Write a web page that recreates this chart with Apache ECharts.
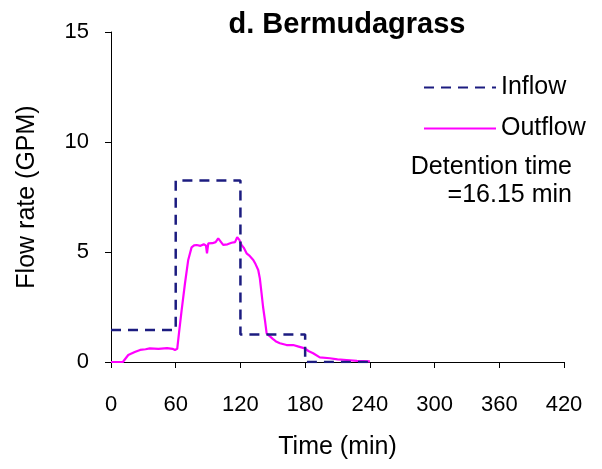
<!DOCTYPE html>
<html lang="en">
<head>
    <meta charset="UTF-8">
    <title>d. Bermudagrass</title>
    <script src="https://cdn.jsdelivr.net/npm/echarts@6/dist/echarts.min.js"></script>
    <style>
        body { margin: 0; padding: 0; background: #fff; }
        #main { width: 602px; height: 469px; }
    </style>
</head>
<body>
    <div id="main"></div>
    <script>
        // step hydrograph of the inflow (min, GPM)
        const inflowTime = [0, 60, 60, 120, 120, 180, 180, 240];
        const inflowRate = [1.45, 1.45, 8.25, 8.25, 1.25, 1.25, 0, 0];

        // measured outflow (min, GPM)
        const outflowTime = [0, 11, 16, 22, 27, 32, 36, 44, 52, 57, 59.3, 61.4, 63, 65.5, 68.6, 71.6, 74.7, 77, 79.4, 83, 86, 88, 89, 90.2, 94, 97, 99.4, 101, 104, 108, 111.8, 115, 117, 119, 121, 123, 125.7, 128, 131.9, 134, 136.5, 138, 139.6, 141, 142.7, 144.3, 145.8, 150, 153.5, 156.6, 162.8, 168.9, 174, 179.7, 183, 187.4, 193.6, 202.9, 210, 218.4, 228, 240];
        const outflowRate = [0, 0, 0.32, 0.45, 0.55, 0.58, 0.62, 0.6, 0.63, 0.6, 0.55, 0.6, 1.3, 2.36, 3.58, 4.64, 5.21, 5.3, 5.32, 5.28, 5.35, 5.3, 4.94, 5.39, 5.4, 5.45, 5.62, 5.55, 5.32, 5.35, 5.42, 5.45, 5.67, 5.55, 5.32, 5.2, 4.94, 4.85, 4.64, 4.45, 4.18, 3.8, 3.12, 2.5, 1.91, 1.3, 1.23, 1.05, 0.92, 0.85, 0.77, 0.77, 0.7, 0.62, 0.5, 0.4, 0.21, 0.17, 0.12, 0.09, 0.05, 0.03];

        const xTicks = [0, 420, 60];   // min, max, interval
        const yTicks = [0, 15, 5];

        const pair = (xs, ys) => xs.map((x, i) => [x, ys[i]]);

        const font = 'Liberation Sans, Arial, sans-serif';
        const chart = echarts.init(document.getElementById('main'));
        chart.setOption({
            animation: false,
            title: {
                text: 'd. Bermudagrass',
                left: 342, top: 5, textAlign: 'center',
                textStyle: { fontFamily: font, fontSize: 29, fontWeight: 'bold', color: '#000' }
            },
            grid: { left: 111, right: 38, top: 32, bottom: 107 },
            legend: {
                orient: 'vertical', left: 418, top: 70, itemGap: 16,
                itemWidth: 72, itemHeight: 14,
                itemStyle: { opacity: 0 },
                textStyle: { fontFamily: font, fontSize: 25, color: '#000' },
                data: ['Inflow', 'Outflow']
            },
            xAxis: {
                type: 'value', min: xTicks[0], max: xTicks[1], interval: xTicks[2],
                name: 'Time (min)', nameLocation: 'middle', nameGap: 73,
                nameTextStyle: { fontFamily: font, fontSize: 25, color: '#000' },
                axisLine: { lineStyle: { color: '#000' } },
                axisTick: { inside: false, length: 6, lineStyle: { color: '#000' } },
                axisLabel: { margin: 32, fontFamily: font, fontSize: 22, color: '#000' },
                splitLine: { show: false }
            },
            yAxis: {
                type: 'value', min: yTicks[0], max: yTicks[1], interval: yTicks[2],
                name: 'Flow rate (GPM)', nameLocation: 'middle', nameGap: 71,
                nameTextStyle: { fontFamily: font, fontSize: 25, color: '#000' },
                axisLine: { show: true, lineStyle: { color: '#000' } },
                axisTick: { show: true, length: 6, lineStyle: { color: '#000' } },
                axisLabel: { margin: 22, fontFamily: font, fontSize: 22, color: '#000' },
                splitLine: { show: false }
            },
            graphic: [{
                type: 'text', x: 572, y: 153,
                style: {
                    text: 'Detention time\n=16.15 min', align: 'right',
                    font: '25px ' + font, fill: '#000', lineHeight: 28
                }
            }],
            series: [
                {
                    name: 'Inflow', type: 'line', data: pair(inflowTime, inflowRate),
                    symbol: 'none', z: 3,
                    lineStyle: { color: '#1c1c80', width: 2.5, type: [10, 7] },
                    itemStyle: { color: '#1c1c80' }
                },
                {
                    name: 'Outflow', type: 'line', data: pair(outflowTime, outflowRate),
                    symbol: 'none', z: 2,
                    lineStyle: { color: '#ff00ff', width: 2.2 },
                    itemStyle: { color: '#ff00ff' }
                }
            ]
        });
    </script>
</body>
</html>
